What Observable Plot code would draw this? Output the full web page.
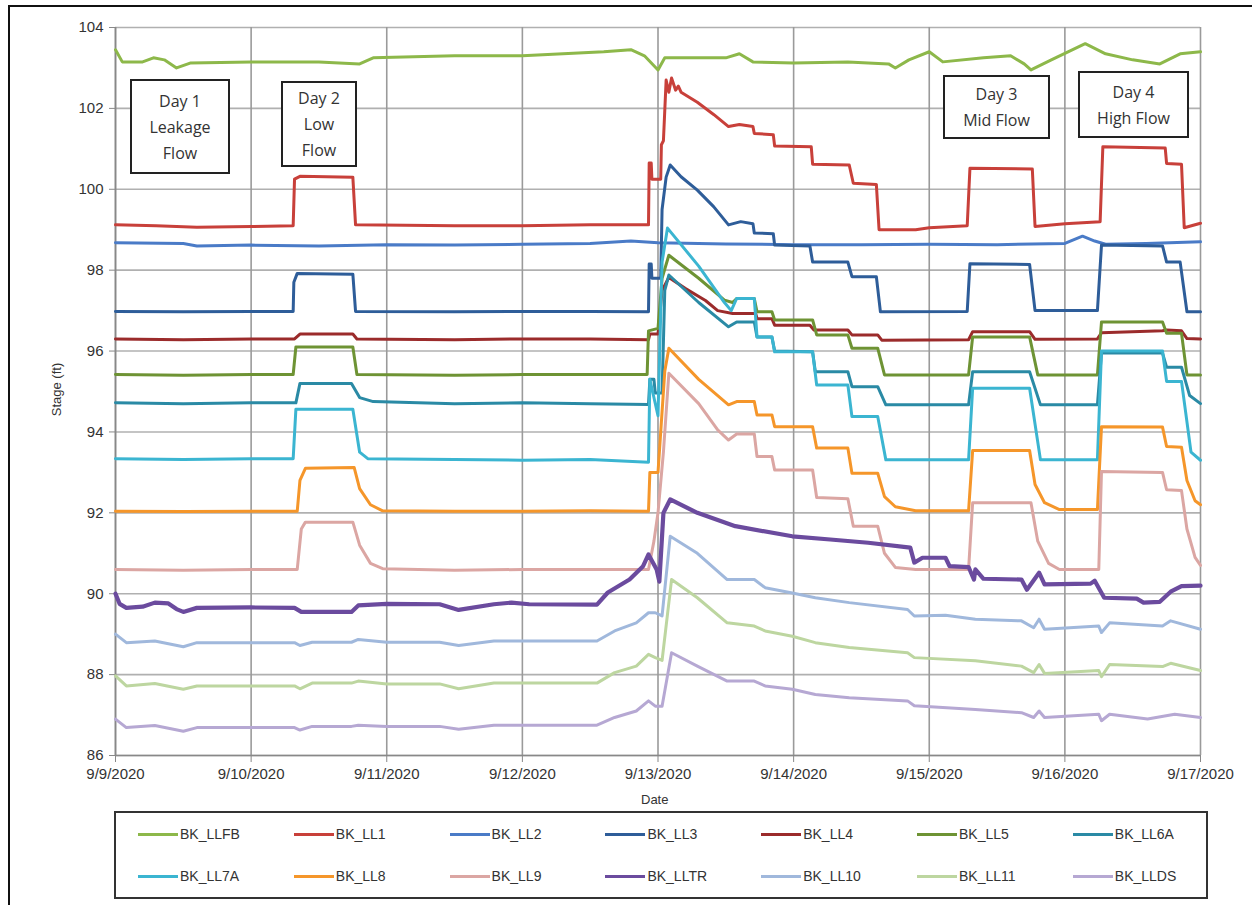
<!DOCTYPE html>
<html><head><meta charset="utf-8">
<script src="https://cdn.jsdelivr.net/npm/d3@7"></script>
<script src="https://cdn.jsdelivr.net/npm/@observablehq/plot@0.6"></script>
<style>
html,body{margin:0;padding:0;background:#fff;}
#wrap{position:relative;width:1252px;height:905px;overflow:hidden;font-family:"Liberation Sans",Arial,sans-serif;}
#frame{position:absolute;left:8px;top:5px;width:1300px;height:960px;border-left:2px solid #111;border-top:2px solid #111;}
#chart{position:absolute;left:0;top:0;}
.note{position:absolute;border:2px solid #222;background:#fff;box-sizing:border-box;display:flex;flex-direction:column;justify-content:center;align-items:center;font-family:"Open Sans","Noto Sans",sans-serif;font-size:16px;line-height:26px;color:#333;text-align:center;}
#legend{position:absolute;left:114px;top:811px;width:1094px;height:88px;border:2px solid #333;box-sizing:border-box;background:#fff;}
.item{position:absolute;height:20px;display:flex;align-items:center;font-size:14px;color:#333;white-space:nowrap;}
.sw{width:40px;height:3px;margin-right:2px;}
.lbl{position:absolute;font-size:13px;color:#333;white-space:nowrap;}
</style></head><body>
<div id="wrap">
  <div id="frame"></div>
  <div id="chart"></div>
  <div class="lbl" style="left:30px;top:382px;transform:rotate(-90deg);transform-origin:center;">Stage (ft)</div>
  <div class="lbl" style="left:641px;top:792px;">Date</div>
  <div id="notes"></div>
  <div id="legend"></div>
</div>
<script>
// ---- axis ticks ----
const xTicks = [0, 1, 2, 3, 4, 5, 6, 7, 8];
const tickLabels = ["9/9/2020","9/10/2020","9/11/2020","9/12/2020","9/13/2020","9/14/2020","9/15/2020","9/16/2020","9/17/2020"];
const yTicks = [86, 88, 90, 92, 94, 96, 98, 100, 102, 104];

// ---- series: [days since 9/9/2020, stage ft] ----
const BK_LLFB = [[0,103.45],[0.05,103.15],[0.2,103.15],[0.28,103.25],[0.36,103.2],[0.45,103.0],[0.55,103.12],[1.0,103.15],[1.5,103.15],[1.8,103.1],[1.9,103.25],[2.5,103.3],[3.0,103.3],[3.3,103.35],[3.6,103.4],[3.8,103.45],[3.9,103.3],[4.0,102.95],[4.05,103.25],[4.5,103.25],[4.6,103.35],[4.7,103.15],[5.0,103.12],[5.4,103.15],[5.7,103.1],[5.75,103.0],[5.85,103.2],[6.0,103.4],[6.1,103.15],[6.4,103.25],[6.6,103.3],[6.7,103.1],[6.75,102.95],[6.9,103.2],[7.15,103.6],[7.3,103.35],[7.5,103.2],[7.7,103.1],[7.85,103.35],[8.0,103.4]];
const BK_LL1 = [[0,99.12],[0.3,99.1],[0.6,99.06],[1.0,99.08],[1.31,99.1],[1.32,100.25],[1.36,100.32],[1.75,100.3],[1.77,99.12],[2.5,99.1],[3.0,99.1],[3.5,99.12],[3.93,99.12],[3.935,100.65],[3.95,100.65],[3.955,100.25],[4.02,100.25],[4.025,101.1],[4.04,101.2],[4.06,102.7],[4.08,102.4],[4.1,102.75],[4.13,102.45],[4.15,102.55],[4.17,102.4],[4.29,102.15],[4.41,101.85],[4.52,101.55],[4.6,101.6],[4.7,101.55],[4.71,101.38],[4.85,101.35],[4.86,101.07],[5.13,101.05],[5.14,100.62],[5.41,100.6],[5.44,100.15],[5.61,100.12],[5.63,99.0],[5.9,99.0],[6.0,99.05],[6.28,99.1],[6.3,100.52],[6.76,100.5],[6.78,99.08],[7.0,99.15],[7.26,99.2],[7.28,101.05],[7.74,101.02],[7.75,100.64],[7.86,100.62],[7.88,99.05],[8.0,99.16]];
const BK_LL2 = [[0,98.68],[0.5,98.66],[0.6,98.6],[1.0,98.62],[1.5,98.6],[2.0,98.63],[2.5,98.62],[3.0,98.64],[3.5,98.66],[3.8,98.72],[4.0,98.68],[4.5,98.65],[5.0,98.63],[5.5,98.63],[6.0,98.64],[6.5,98.63],[7.0,98.66],[7.13,98.84],[7.22,98.72],[7.3,98.64],[7.6,98.66],[8.0,98.7]];
const BK_LL3 = [[0,96.98],[0.5,96.97],[1.0,96.98],[1.31,96.98],[1.315,97.7],[1.34,97.92],[1.75,97.9],[1.77,96.98],[2.5,96.97],[3.0,96.98],[3.5,96.98],[3.93,96.97],[3.935,98.15],[3.95,98.15],[3.955,97.8],[4.02,97.8],[4.03,99.5],[4.06,100.3],[4.09,100.6],[4.17,100.31],[4.29,99.98],[4.41,99.57],[4.52,99.12],[4.61,99.2],[4.7,99.15],[4.71,98.92],[4.85,98.9],[4.86,98.62],[5.12,98.6],[5.14,98.2],[5.4,98.2],[5.43,97.84],[5.61,97.84],[5.64,96.97],[6.28,96.98],[6.3,98.16],[6.74,98.14],[6.78,97.0],[7.24,97.0],[7.27,98.62],[7.72,98.6],[7.75,98.2],[7.85,98.2],[7.9,96.97],[8.0,96.97]];
const BK_LL4 = [[0,96.3],[0.5,96.28],[1.0,96.3],[1.32,96.3],[1.36,96.42],[1.75,96.42],[1.78,96.3],[2.5,96.28],[3.0,96.3],[3.5,96.3],[3.93,96.28],[3.94,96.42],[4.0,96.42],[4.03,97.5],[4.08,97.82],[4.2,97.55],[4.35,97.25],[4.44,97.0],[4.55,96.93],[4.72,96.93],[4.73,96.8],[4.84,96.8],[4.86,96.64],[5.12,96.64],[5.15,96.52],[5.4,96.52],[5.43,96.4],[5.62,96.4],[5.65,96.27],[6.29,96.28],[6.32,96.48],[6.74,96.48],[6.78,96.29],[7.24,96.3],[7.27,96.45],[7.72,96.5],[7.75,96.52],[7.86,96.5],[7.9,96.31],[8.0,96.3]];
const BK_LL5 = [[0,95.42],[0.5,95.4],[1.0,95.42],[1.31,95.42],[1.33,96.1],[1.75,96.1],[1.78,95.42],[2.5,95.4],[3.0,95.42],[3.5,95.42],[3.92,95.42],[3.93,96.5],[4.0,96.56],[4.03,97.8],[4.08,98.37],[4.3,97.8],[4.49,97.26],[4.55,97.2],[4.58,97.3],[4.71,97.3],[4.73,96.97],[4.84,96.97],[4.86,96.77],[5.14,96.77],[5.17,96.4],[5.4,96.4],[5.43,96.07],[5.62,96.07],[5.67,95.41],[6.29,95.41],[6.32,96.35],[6.74,96.35],[6.8,95.41],[7.24,95.41],[7.27,96.72],[7.72,96.72],[7.75,96.44],[7.86,96.44],[7.9,95.41],[8.0,95.41]];
const BK_LL6A = [[0,94.72],[0.5,94.7],[1.0,94.72],[1.33,94.72],[1.36,95.2],[1.74,95.2],[1.8,94.85],[1.9,94.75],[2.5,94.7],[3.0,94.72],[3.5,94.7],[3.93,94.68],[3.94,95.3],[3.97,95.3],[3.98,94.96],[4.03,94.96],[4.05,97.5],[4.08,97.88],[4.3,97.2],[4.52,96.6],[4.58,96.72],[4.71,96.72],[4.73,96.35],[4.84,96.35],[4.86,96.0],[5.14,95.98],[5.16,95.49],[5.4,95.49],[5.43,95.12],[5.62,95.12],[5.68,94.67],[6.29,94.67],[6.32,95.49],[6.74,95.49],[6.82,94.67],[7.24,94.67],[7.27,95.95],[7.72,95.95],[7.75,95.6],[7.86,95.6],[7.92,94.9],[8.0,94.7]];
const BK_LL7A = [[0,93.34],[0.5,93.32],[1.0,93.34],[1.31,93.34],[1.33,94.56],[1.75,94.56],[1.8,93.5],[1.86,93.34],[2.5,93.32],[3.0,93.3],[3.5,93.32],[3.93,93.25],[3.94,95.3],[3.96,95.0],[4.0,94.4],[4.03,98.2],[4.07,99.04],[4.3,98.1],[4.49,97.2],[4.54,97.0],[4.58,97.3],[4.71,97.3],[4.73,96.35],[4.84,96.35],[4.86,95.98],[5.14,95.98],[5.17,95.16],[5.4,95.16],[5.43,94.38],[5.62,94.38],[5.68,93.31],[6.29,93.31],[6.32,95.08],[6.74,95.08],[6.82,93.31],[7.24,93.31],[7.27,96.0],[7.72,96.0],[7.75,95.25],[7.86,95.25],[7.93,93.5],[8.0,93.3]];
const BK_LL8 = [[0,92.04],[0.5,92.03],[1.0,92.04],[1.34,92.04],[1.36,92.8],[1.4,93.1],[1.76,93.12],[1.8,92.6],[1.88,92.2],[1.97,92.05],[2.5,92.04],[3.0,92.04],[3.5,92.05],[3.93,92.04],[3.94,93.0],[4.0,93.0],[4.05,95.5],[4.08,96.07],[4.3,95.3],[4.52,94.67],[4.58,94.75],[4.71,94.75],[4.73,94.42],[4.84,94.42],[4.86,94.13],[5.14,94.13],[5.17,93.6],[5.4,93.6],[5.43,92.98],[5.62,92.98],[5.67,92.4],[5.75,92.15],[5.9,92.05],[6.29,92.05],[6.32,93.54],[6.74,93.54],[6.78,92.7],[6.85,92.25],[6.96,92.08],[7.24,92.08],[7.27,94.13],[7.72,94.12],[7.75,93.64],[7.86,93.62],[7.9,92.8],[7.96,92.3],[8.0,92.2]];
const BK_LL9 = [[0,90.6],[0.5,90.58],[1.0,90.6],[1.34,90.6],[1.37,91.6],[1.4,91.77],[1.75,91.77],[1.8,91.2],[1.88,90.75],[1.97,90.62],[2.5,90.58],[3.0,90.6],[3.5,90.6],[3.93,90.6],[3.97,91.3],[4.0,92.0],[4.04,93.5],[4.08,95.45],[4.3,94.7],[4.44,94.05],[4.52,93.8],[4.58,93.95],[4.71,93.95],[4.73,93.39],[4.84,93.39],[4.86,93.06],[5.14,93.06],[5.17,92.38],[5.4,92.35],[5.44,91.67],[5.62,91.67],[5.67,91.0],[5.75,90.65],[5.9,90.6],[6.29,90.6],[6.32,92.25],[6.75,92.25],[6.8,91.3],[6.88,90.75],[6.96,90.6],[7.25,90.6],[7.27,93.02],[7.72,93.0],[7.75,92.57],[7.86,92.55],[7.9,91.6],[7.96,90.9],[8.0,90.7]];
const BK_LLTR = [[0,90.0],[0.03,89.75],[0.08,89.65],[0.2,89.68],[0.29,89.78],[0.39,89.76],[0.45,89.62],[0.5,89.55],[0.6,89.65],[1.0,89.66],[1.32,89.65],[1.37,89.55],[1.74,89.55],[1.79,89.71],[2.0,89.75],[2.39,89.74],[2.53,89.6],[2.79,89.74],[2.92,89.78],[3.05,89.74],[3.55,89.73],[3.63,90.03],[3.79,90.35],[3.89,90.68],[3.93,90.97],[3.99,90.6],[4.01,90.3],[4.04,92.0],[4.09,92.33],[4.29,92.0],[4.57,91.67],[4.99,91.42],[5.27,91.34],[5.55,91.26],[5.86,91.14],[5.89,90.77],[5.95,90.89],[6.12,90.89],[6.15,90.68],[6.29,90.66],[6.33,90.35],[6.34,90.6],[6.4,90.37],[6.68,90.35],[6.72,90.1],[6.81,90.52],[6.85,90.23],[7.19,90.25],[7.22,90.32],[7.29,89.9],[7.53,89.88],[7.58,89.78],[7.7,89.8],[7.78,90.05],[7.86,90.19],[8.0,90.2]];
const BK_LL10 = [[0,89.0],[0.08,88.79],[0.29,88.83],[0.5,88.69],[0.6,88.79],[1.32,88.79],[1.36,88.72],[1.45,88.8],[1.74,88.8],[1.79,88.87],[2.0,88.8],[2.39,88.8],[2.53,88.72],[2.79,88.83],[3.55,88.83],[3.68,89.08],[3.84,89.28],[3.93,89.53],[3.98,89.53],[4.03,89.45],[4.09,91.42],[4.29,91.0],[4.51,90.35],[4.71,90.35],[4.79,90.15],[4.99,90.02],[5.16,89.9],[5.41,89.78],[5.84,89.61],[5.89,89.45],[6.12,89.47],[6.34,89.37],[6.68,89.33],[6.77,89.16],[6.81,89.37],[6.85,89.12],[7.25,89.2],[7.27,89.04],[7.33,89.28],[7.72,89.2],[7.78,89.33],[8.0,89.12]];
const BK_LL11 = [[0,87.97],[0.08,87.72],[0.29,87.78],[0.5,87.64],[0.6,87.72],[1.32,87.72],[1.36,87.65],[1.45,87.79],[1.74,87.79],[1.79,87.84],[2.0,87.77],[2.39,87.77],[2.53,87.65],[2.79,87.79],[3.55,87.79],[3.68,88.05],[3.84,88.21],[3.93,88.5],[3.98,88.42],[4.03,88.35],[4.1,90.35],[4.29,89.9],[4.51,89.28],[4.71,89.2],[4.79,89.08],[4.99,88.95],[5.16,88.79],[5.41,88.67],[5.84,88.54],[5.89,88.42],[6.34,88.34],[6.68,88.21],[6.77,88.05],[6.81,88.25],[6.85,88.03],[7.25,88.1],[7.27,87.95],[7.33,88.25],[7.72,88.2],[7.78,88.28],[8.0,88.1]];
const BK_LLDS = [[0,86.9],[0.08,86.69],[0.29,86.74],[0.5,86.6],[0.6,86.69],[1.32,86.69],[1.36,86.63],[1.45,86.72],[1.74,86.72],[1.79,86.75],[2.0,86.72],[2.39,86.72],[2.53,86.65],[2.79,86.75],[3.55,86.75],[3.68,86.94],[3.84,87.1],[3.93,87.35],[3.98,87.22],[4.03,87.22],[4.1,88.54],[4.29,88.21],[4.51,87.84],[4.71,87.84],[4.79,87.72],[4.99,87.64],[5.16,87.51],[5.41,87.43],[5.84,87.35],[5.89,87.23],[6.34,87.14],[6.68,87.06],[6.77,86.94],[6.81,87.1],[6.85,86.94],[7.25,87.02],[7.27,86.86],[7.33,87.02],[7.61,86.9],[7.81,87.02],[8.0,86.94]];

const seriesNames = ["BK_LLFB","BK_LL1","BK_LL2","BK_LL3","BK_LL4","BK_LL5","BK_LL6A","BK_LL7A","BK_LL8","BK_LL9","BK_LLTR","BK_LL10","BK_LL11","BK_LLDS"];
const seriesValues = [BK_LLFB,BK_LL1,BK_LL2,BK_LL3,BK_LL4,BK_LL5,BK_LL6A,BK_LL7A,BK_LL8,BK_LL9,BK_LLTR,BK_LL10,BK_LL11,BK_LLDS];
const seriesColors = ["#8DB84A","#C8403A","#4A7BC7","#2E5D99","#9B2B2B","#6E9334","#2A8AA5","#3BB5D1","#F5962A","#DBA6A3","#6B4B9E","#A0B8DC","#BDD6A0","#B6A8D3"];

const notes = [
  {lines:["Day 1","Leakage","Flow"], left:130, top:79, w:100, h:95},
  {lines:["Day 2","Low","Flow"], left:281, top:81, w:76, h:86},
  {lines:["Day 3","Mid Flow"], left:943, top:75, w:107, h:64},
  {lines:["Day 4","High Flow"], left:1078, top:71, w:111, h:67}
];

// ---- chart ----
const lineMarks = seriesValues.map((vals, i) => Plot.line(vals, {
  x: d => d[0], y: d => d[1], stroke: seriesColors[i],
  strokeWidth: seriesNames[i] === "BK_LLTR" ? 4.2 : 3, strokeLinejoin: "round"
}));

const chart = Plot.plot({
  width: 1252, height: 812,
  marginLeft: 115, marginRight: 52, marginTop: 27, marginBottom: 57,
  x: {domain: [0, 8], axis: null},
  y: {domain: [86, 104], axis: null},
  style: {fontFamily: "Liberation Sans, Arial, sans-serif", fontSize: "15px", color: "#333", background: "transparent"},
  marks: [
    Plot.gridY(yTicks, {stroke: "#b0b0b0", strokeOpacity: 1, strokeWidth: 1.6}),
    Plot.gridX(xTicks, {stroke: "#9a9a9a", strokeOpacity: 1, strokeWidth: 1.6}),
    Plot.ruleX([0], {stroke: "#888", strokeWidth: 1.6}),
    Plot.ruleY([86], {stroke: "#888", strokeWidth: 1.6}),
    Plot.axisY(yTicks, {tickSize: 6, tickPadding: 6, label: null, stroke: "#888", fill: "#333"}),
    Plot.axisX(xTicks, {tickSize: 7, tickPadding: 6, label: null, stroke: "#888", fill: "#333", tickFormat: d => tickLabels[d]}),
    ...lineMarks
  ]
});
document.getElementById("chart").appendChild(chart);

// ---- annotation boxes ----
const notesEl = document.getElementById("notes");
notes.forEach(n => {
  const d = document.createElement("div");
  d.className = "note";
  d.style.left = n.left + "px"; d.style.top = n.top + "px";
  d.style.width = n.w + "px"; d.style.height = n.h + "px";
  n.lines.forEach(t => { const s = document.createElement("div"); s.textContent = t; d.appendChild(s); });
  notesEl.appendChild(d);
});

// ---- legend ----
const legend = document.getElementById("legend");
seriesNames.forEach((name, i) => {
  const row = Math.floor(i / 7), col = i % 7;
  const it = document.createElement("div");
  it.className = "item";
  it.style.left = (22 + col * 155.8) + "px";
  it.style.top = (row === 0 ? 11 : 53) + "px";
  const sw = document.createElement("span");
  sw.className = "sw"; sw.style.background = seriesColors[i];
  const tx = document.createElement("span");
  tx.textContent = name;
  it.appendChild(sw); it.appendChild(tx);
  legend.appendChild(it);
});
</script>
</body></html>
